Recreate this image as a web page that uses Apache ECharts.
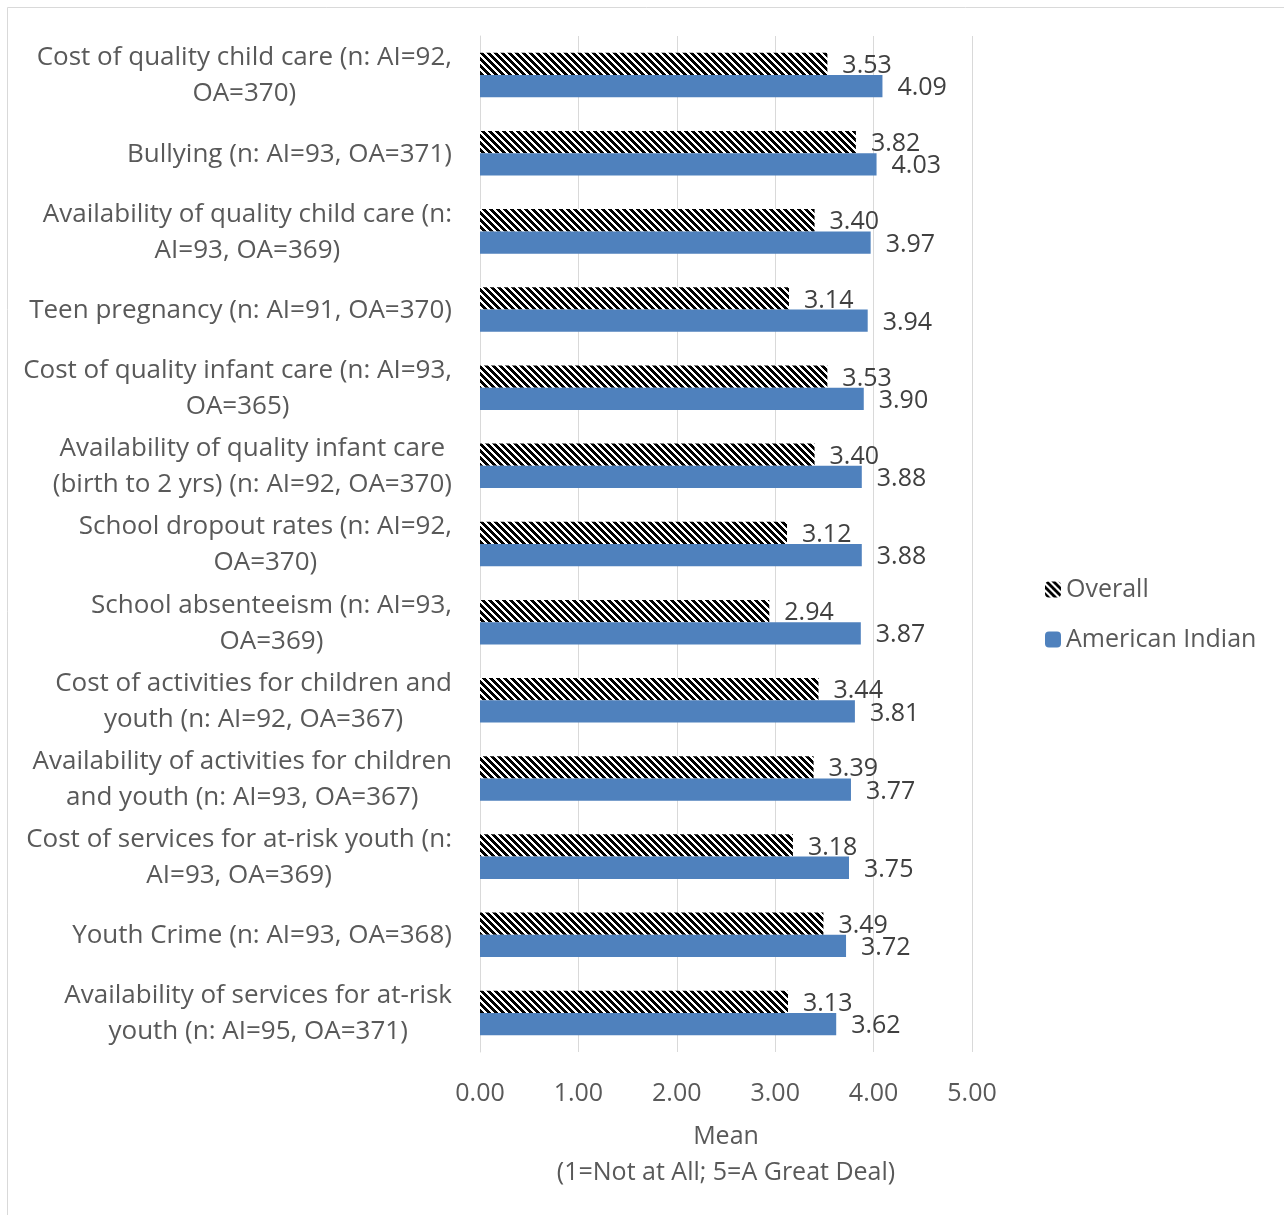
<!DOCTYPE html>
<html><head><meta charset="utf-8">
<script src="https://cdn.jsdelivr.net/npm/echarts@6/dist/echarts.min.js"></script>
<style>html,body{margin:0;padding:0;background:#fff}#c{width:1284px;height:1215px}</style>
</head><body><div id="c"></div>
<script>
const categories = [
  ["Cost of quality child care (n: AI=92,", "OA=370)"],
  ["Bullying (n: AI=93, OA=371)"],
  ["Availability of quality child care (n:", "AI=93, OA=369)"],
  ["Teen pregnancy (n: AI=91, OA=370)"],
  ["Cost of quality infant care (n: AI=93,", "OA=365)"],
  ["Availability of quality infant care", "(birth to 2 yrs) (n: AI=92, OA=370)"],
  ["School dropout rates (n: AI=92,", "OA=370)"],
  ["School absenteeism (n: AI=93,", "OA=369)"],
  ["Cost of activities for children and", "youth (n: AI=92, OA=367)"],
  ["Availability of activities for children", "and youth (n: AI=93, OA=367)"],
  ["Cost of services for at-risk youth (n:", "AI=93, OA=369)"],
  ["Youth Crime (n: AI=93, OA=368)"],
  ["Availability of services for at-risk", "youth (n: AI=95, OA=371)"]
];
const overall = [3.53, 3.82, 3.40, 3.14, 3.53, 3.40, 3.12, 2.94, 3.44, 3.39, 3.18, 3.49, 3.13];
const americanIndian = [4.09, 4.03, 3.97, 3.94, 3.90, 3.88, 3.88, 3.87, 3.81, 3.77, 3.75, 3.72, 3.62];
const xTicks = [0, 1, 2, 3, 4, 5];

function makeHatch() {
  const n = 7, c = document.createElement('canvas');
  c.width = n; c.height = n;
  const ctx = c.getContext('2d');
  const img = ctx.createImageData(n, n);
  for (let y = 0; y < n; y++) for (let x = 0; x < n; x++) {
    const k = (((x - y) % n) + n) % n;
    const v = k < 4 ? 0 : 255;
    const i = (y * n + x) * 4;
    img.data[i] = v; img.data[i+1] = v; img.data[i+2] = v; img.data[i+3] = 255;
  }
  ctx.putImageData(img, 0, 0);
  return c;
}
const hatch = { image: makeHatch(), repeat: 'repeat' };
const FONT = 'Open Sans';
const FS = 25;
const YFS = 26;
const chart = echarts.init(document.getElementById('c'));
chart.setOption({
  animation: false,
  backgroundColor: '#fff',
  graphic: [{ type: 'rect', shape: { x: 7.5, y: 7.5, width: 1400, height: 1400 }, style: { fill: 'none', stroke: '#d9d9d9', lineWidth: 1 }, silent: true }],
  grid: { left: 480, right: 312, top: 36, bottom: 163, containLabel: false },
  legend: {
    orient: 'vertical', left: 1040, top: 572, itemGap: 25, itemWidth: 16, itemHeight: 16,
    textStyle: { fontFamily: FONT, fontSize: FS, color: '#595959' },
    data: ['Overall', 'American Indian']
  },
  xAxis: {
    type: 'value', min: xTicks[0], max: xTicks[xTicks.length - 1], interval: 1,
    axisLine: { show: false }, axisTick: { show: false },
    splitLine: { lineStyle: { color: '#d9d9d9', width: 1 } },
    axisLabel: { formatter: v => v.toFixed(2), fontFamily: FONT, fontSize: FS, color: '#595959', margin: 29 },
    name: 'Mean\n(1=Not at All; 5=A Great Deal)', nameLocation: 'middle', nameGap: 67,
    nameTextStyle: { fontFamily: FONT, fontSize: FS, color: '#595959', lineHeight: 36 }
  },
  yAxis: {
    type: 'category', inverse: true,
    data: categories.map(c => c.join('\n')),
    axisLine: { lineStyle: { color: '#d9d9d9' } }, axisTick: { show: false },
    axisLabel: {
      margin: 28, fontFamily: FONT, fontSize: YFS, color: '#595959', lineHeight: 36, align: 'right',
      formatter: v => v.split('\n').map(l => '{c|' + l + '}').join('\n'),
      rich: { c: { align: 'center', fontFamily: FONT, fontSize: YFS, color: '#595959', lineHeight: 36, padding: [2, 0, 0, 0] } }
    }
  },
  series: [
    { name: 'Overall', type: 'bar', data: overall, barGap: '0%', barCategoryGap: '43%',
      itemStyle: { color: hatch },
      label: { show: true, position: 'right', distance: 15, offset: [0, 2], formatter: p => p.value.toFixed(2), fontFamily: FONT, fontSize: FS, color: '#404040' } },
    { name: 'American Indian', type: 'bar', data: americanIndian, barGap: '0%', barCategoryGap: '43%',
      itemStyle: { color: '#4f81bd' },
      label: { show: true, position: 'right', distance: 15, offset: [0, 2], formatter: p => p.value.toFixed(2), fontFamily: FONT, fontSize: FS, color: '#404040' } }
  ]
});
</script></body></html>
